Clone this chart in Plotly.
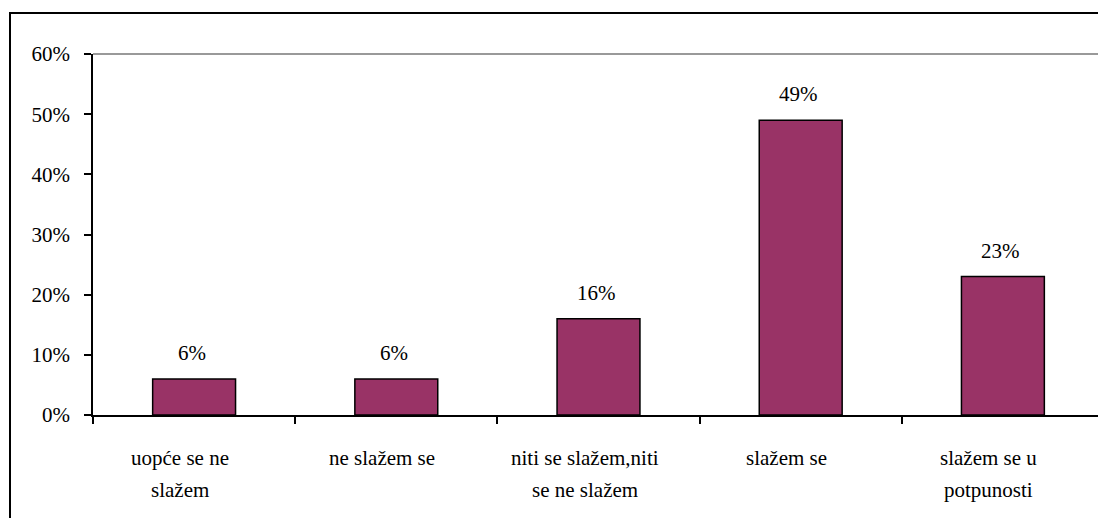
import plotly.graph_objects as go

categories = ["uopće se ne<br>slažem", "ne slažem se", "niti se slažem,niti<br>se ne slažem", "slažem se", "slažem se u<br>potpunosti"]
values = [6, 6, 16, 49, 23]
y_ticks = [0, 10, 20, 30, 40, 50, 60]
y_tick_labels = ["0%", "10%", "20%", "30%", "40%", "50%", "60%"]

FONT = "Liberation Serif"
FS = 21
x_pos = list(range(len(categories)))

fig = go.Figure()
fig.add_trace(go.Bar(
    x=x_pos, y=values, width=0.41,
    marker=dict(color="#993366", line=dict(color="black", width=1.5)),
    hoverinfo="skip",
))

annotations = []
for xi, v in zip(x_pos, values):
    annotations.append(dict(x=xi, y=v, xref="x", yref="y", text=f"{v}%", showarrow=False,
                            xanchor="center", yanchor="middle", xshift=-2, yshift=26,
                            font=dict(family=FONT, size=FS, color="black")))
for xi, cat in zip(x_pos, categories):
    for li, line in enumerate(cat.split("<br>")):
        annotations.append(dict(x=xi, y=0, xref="x", yref="paper", text=line, showarrow=False,
                                xanchor="center", yanchor="middle", xshift=-14, yshift=-43 - 32 * li,
                                font=dict(family=FONT, size=FS, color="black")))

# page has an 8px body margin
W, H = 1098, 510
L, R, T, B = 85, 2, 46, 103
pw, ph = W - L - R, H - T - B
def px(xp): return (xp - L) / pw
def py(yp): return (H - B - yp) / ph

shapes = [
    dict(type="line", xref="paper", yref="paper", x0=0, x1=1, y0=1, y1=1, line=dict(color="#999999", width=2)),
    dict(type="line", xref="paper", yref="paper", x0=1, x1=1, y0=0, y1=1, line=dict(color="#999999", width=2)),
    dict(type="rect", xref="paper", yref="paper", x0=px(2), x1=px(1110), y0=py(540), y1=py(5),
         line=dict(color="black", width=2)),
]

fig.update_layout(
    width=W, height=H,
    margin=dict(l=L, r=R, t=T, b=B),
    paper_bgcolor="white", plot_bgcolor="white",
    showlegend=False,
    annotations=annotations,
    shapes=shapes,
    font=dict(family=FONT, size=FS, color="black"),
    xaxis=dict(range=[-0.5, len(categories) - 0.5],
               tickvals=[i - 0.5 for i in range(len(categories) + 1)],
               showticklabels=False, ticks="outside", ticklen=7, tickcolor="black", tickwidth=1.5,
               showline=True, linecolor="black", linewidth=1.5, showgrid=False, zeroline=False),
    yaxis=dict(range=[0, 60], tickvals=y_ticks, ticktext=y_tick_labels,
               ticks="outside", ticklen=7, tickcolor="black", tickwidth=1.5,
               ticklabelstandoff=10,
               showline=True, linecolor="black", linewidth=1.5, showgrid=False, zeroline=False,
               tickfont=dict(family=FONT, size=FS, color="black")),
)

fig.write_html("out.html")
